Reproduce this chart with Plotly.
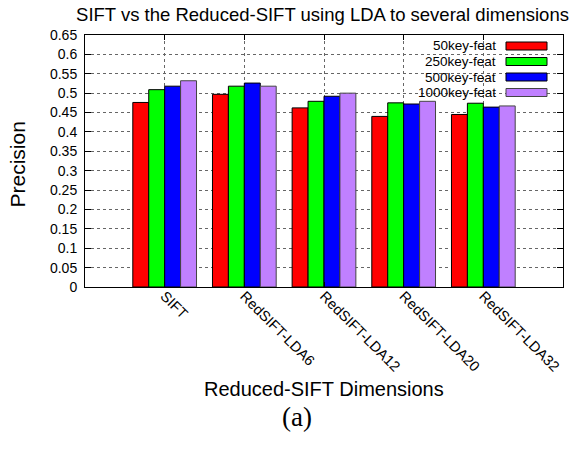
import plotly.graph_objects as go

categories = ["SIFT", "RedSIFT-LDA6", "RedSIFT-LDA12", "RedSIFT-LDA20", "RedSIFT-LDA32"]
series_names = ["50key-feat", "250key-feat", "500key-feat", "1000key-feat"]
vals_50 = [0.476, 0.497, 0.462, 0.440, 0.445]
vals_250 = [0.509, 0.518, 0.479, 0.475, 0.474]
vals_500 = [0.518, 0.526, 0.492, 0.472, 0.464]
vals_1000 = [0.532, 0.518, 0.500, 0.479, 0.467]
y_ticks = [0, 0.05, 0.1, 0.15, 0.2, 0.25, 0.3, 0.35, 0.4, 0.45, 0.5, 0.55, 0.6, 0.65]

series_values = [vals_50, vals_250, vals_500, vals_1000]
colors = ["#ff0000", "#00ff00", "#0000ff", "#c080ff"]
edge = ["#000000", "#000000", "#000000", "#444444"]

FONT = "Liberation Sans, Arial, sans-serif"
L, R, T, B = 85, 14, 35, 163
W, H = 577, 450
PW, PH = W - L - R, H - T - B


def px_x(x):
    return (x - L) / PW


def px_y(y):
    return 1 - (y - T) / PH


fig = go.Figure()
for name, vals, c, e in zip(series_names, series_values, colors, edge):
    fig.add_trace(go.Bar(x=categories, y=vals, name=name,
                         marker=dict(color=c, line=dict(color=e, width=1)), showlegend=False))

# gnuplot-style key: label on the left, swatch on the right
shapes = [dict(type="rect", xref="paper", yref="paper", x0=px_x(392), x1=px_x(557), y0=px_y(100), y1=px_y(35.5),
               fillcolor="white", line=dict(width=0), layer="between")]
annotations = []
for i, (name, c, e) in enumerate(zip(series_names, colors, edge)):
    yc = 46 + i * 15.5
    annotations.append(dict(text=name, xref="paper", yref="paper", x=px_x(498), y=px_y(yc), xanchor="right",
                            yanchor="middle", showarrow=False, font=dict(size=13.5, family=FONT, color="black")))
    shapes.append(dict(type="rect", xref="paper", yref="paper", x0=px_x(506), x1=px_x(547),
                       y0=px_y(yc + 4), y1=px_y(yc - 4), fillcolor=c,
                       line=dict(color=e, width=1), layer="above"))

annotations.append(dict(text="Reduced-SIFT Dimensions", xref="paper", yref="paper", x=px_x(324),
                        y=px_y(389), xanchor="center", yanchor="middle", showarrow=False,
                        font=dict(size=20, family=FONT, color="black")))
annotations.append(dict(text="Precision", xref="paper", yref="paper", x=px_x(16.5),
                        y=px_y(165), xanchor="center", yanchor="middle", showarrow=False, textangle=-90,
                        font=dict(size=21, family=FONT, color="black")))
annotations.append(dict(text="(a)", xref="paper", yref="paper", x=px_x(297),
                        y=px_y(417), xanchor="center", yanchor="middle", showarrow=False,
                        font=dict(size=27, family="Liberation Serif, Times New Roman, serif", color="black")))

fig.update_layout(
    width=W, height=H,
    margin=dict(l=L, r=R, t=T, b=B, autoexpand=False),
    paper_bgcolor="white", plot_bgcolor="white",
    font=dict(family=FONT, size=14, color="black"),
    title=dict(text="SIFT vs the Reduced-SIFT using LDA to several dimensions", x=322.5 / W,
               xanchor="center", y=1 - 15 / H, yanchor="middle", font=dict(size=18.5, family=FONT, color="black")),
    barmode="group", bargap=0.2, bargroupgap=0,
    shapes=shapes, annotations=annotations,
    xaxis=dict(type="category", range=[-1, 5], showline=True, linecolor="black", linewidth=1, mirror="allticks",
               ticks="inside", ticklen=5, tickcolor="black", tickangle=45, ticklabelstandoff=-6,
               showgrid=True, gridcolor="#666666", griddash="dot", gridwidth=1, automargin=False,
               tickfont=dict(size=14.5, family=FONT, color="black")),
    yaxis=dict(range=[0, 0.65], tickvals=y_ticks, ticktext=[f"{v:g}" for v in y_ticks],
               showline=True, linecolor="black", linewidth=1, mirror="allticks",
               ticks="inside", ticklen=6, tickcolor="black", ticklabelstandoff=4,
               showgrid=True, gridcolor="#666666", griddash="dot", gridwidth=1, zeroline=False,
               automargin=False, tickfont=dict(size=14, family=FONT, color="black")),
)

fig.write_html("out.html", config={"displayModeBar": False},
               post_script="document.body.style.margin='0';")
